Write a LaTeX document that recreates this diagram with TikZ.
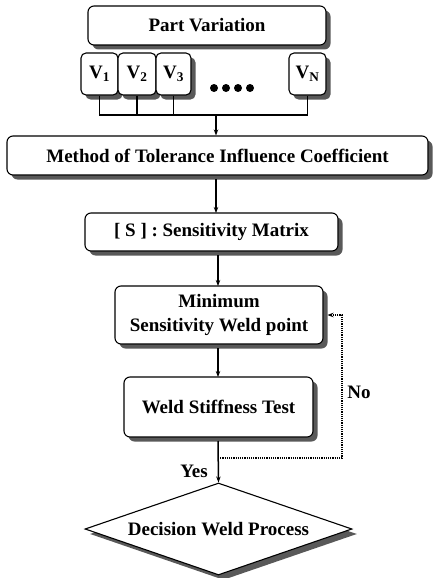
\documentclass[tikz,border=0pt]{standalone}
\usepackage{fontspec}
\setmainfont{Liberation Serif}
\usetikzlibrary{shapes.geometric,shadows,arrows.meta}
\begin{document}
\begin{tikzpicture}[x=1pt,y=-1pt,
  font=\fontsize{19}{24}\selectfont\bfseries,
  box/.style={draw=black, line width=1.1pt, rounded corners=6pt, fill=white,
    inner sep=0pt, align=center,
    drop shadow={shadow xshift=4.5pt, shadow yshift=-4.5pt, fill=black!65, opacity=1}},
  vbox/.style={box, rounded corners=5pt},
  dec/.style={draw=black, line width=1.1pt, fill=white, diamond, aspect=2.9,
    inner sep=0pt, minimum width=267pt, minimum height=92pt,
    drop shadow={shadow xshift=5pt, shadow yshift=-5pt, fill=black!65, opacity=1}},
  conn/.style={line width=1.5pt},
  arr/.style={conn, -{Stealth[length=6pt,width=4.5pt]}},
  fb/.style={line width=1.2pt, densely dotted, -{Stealth[length=6pt,width=4.5pt]}},
  dot/.style={circle, fill=black, inner sep=0pt, minimum size=8pt},
  lbl/.style={inner sep=0pt}
]
\useasboundingbox (0,0) rectangle (432,578);

% Part variation
\node[box, minimum width=238pt, minimum height=39pt] (pv) at (207,25.5) {Part Variation};
\node[vbox, minimum width=37pt, minimum height=42pt] (v1) at (99.5,74) {V\textsubscript{1}};
\node[vbox, minimum width=38pt, minimum height=42pt] (v2) at (137,74) {V\textsubscript{2}};
\node[vbox, minimum width=35pt, minimum height=42pt] (v3) at (173.5,74) {V\textsubscript{3}};
\node[vbox, minimum width=37pt, minimum height=42pt] (vn) at (307.5,74) {V\textsubscript{N}};
\node[dot] (d1) at (214,88) {};
\node[dot] (d2) at (226,88) {};
\node[dot] (d3) at (238,88) {};
\node[dot] (d4) at (250,88) {};

% collector
\coordinate (c1) at (v1.south |- 0,115);
\coordinate (cn) at (vn.south |- 0,115);
\coordinate (cm) at (216,115);
\draw[conn] (v1.south) -- (c1) -- (cn) -- (vn.south);
\draw[conn] (v2.south) -- (v2.south |- c1);
\draw[conn] (v3.south) -- (v3.south |- c1);

% main chain
\node[box, minimum width=421pt, minimum height=39pt] (mt) at (217.5,155.5) {Method of Tolerance Influence Coefficient};
\node[box, minimum width=253pt, minimum height=38pt] (sm) at (211.5,232) {[ S ] : Sensitivity Matrix};
\node[box, minimum width=208pt, minimum height=58pt] (mw) at (219,315) {Minimum\\Sensitivity Weld point};
\node[box, minimum width=189pt, minimum height=60pt] (ws) at (218.5,407) {Weld Stiffness Test};
\node[dec] (dw) at (218.5,529) {Decision Weld Process};

\draw[arr] (cm) -- (cm |- mt.north);
\draw[arr] (216,179) -- (216,213);
\draw[arr] (218,255) -- (218,286);
\draw[arr] (218,348) -- (218,377);
\draw[arr] (218,441) -- (dw.north);

% feedback
\coordinate (f1) at (218,458);
\coordinate (f2) at (342,458);
\coordinate (f3) at (342,315);
\draw[fb] (f1) -- (f2) -- (f3) -- (327.5,315);

\node[lbl] (yes) at (194,471) {Yes};
\node[lbl] (no) at (359,392) {No};
\end{tikzpicture}
\end{document}
